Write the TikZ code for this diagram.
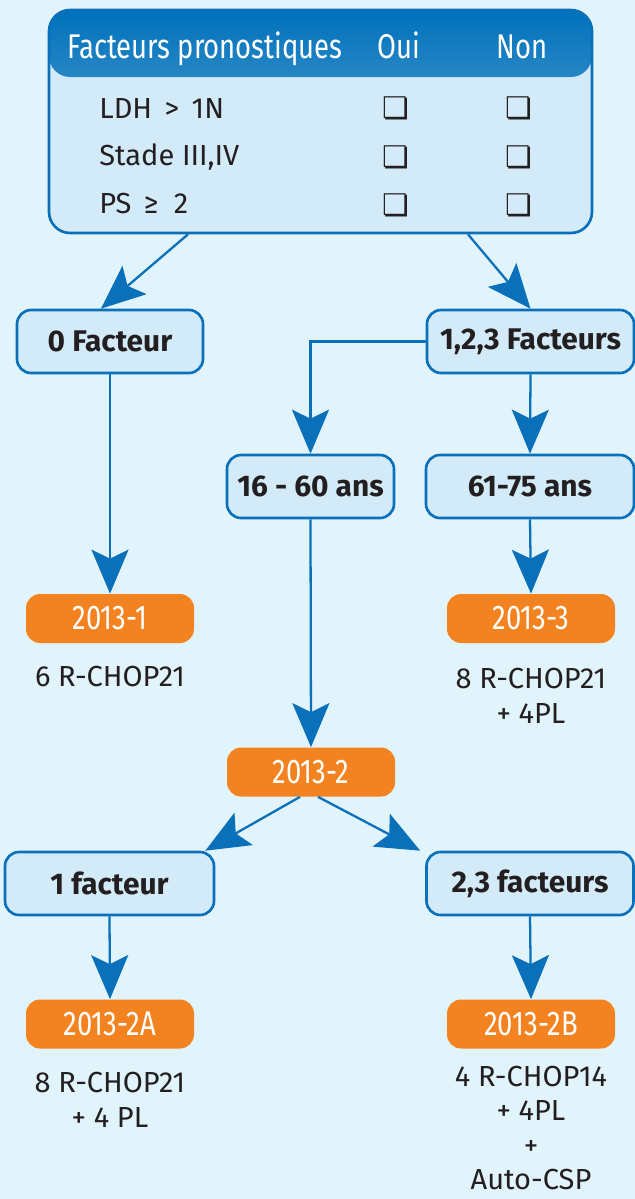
\documentclass[tikz,border=0pt]{standalone}
\usepackage{fontspec}
\setmainfont{Fira Sans}
\newfontfamily\condfont{Fira Sans}[FakeStretch=0.8]
\newfontfamily\symfont{DejaVu Sans}
\usepackage{tikz}
\usepackage{xcolor}
\usetikzlibrary{positioning,arrows.meta,calc}
\definecolor{bgblue}{RGB}{225,243,251}
\definecolor{boxfill}{RGB}{211,234,248}
\definecolor{lineblue}{RGB}{10,112,185}
\definecolor{hdrblue}{RGB}{0,113,187}
\definecolor{armorange}{RGB}{243,131,33}
\definecolor{ink}{RGB}{35,31,32}

\begin{document}
\begin{tikzpicture}[
    box/.style={draw=lineblue, line width=1.5pt, fill=boxfill, rounded corners=8pt, minimum height=1.26cm, inner sep=0pt, align=center, text=ink, font=\fontsize{17}{20}\selectfont\bfseries},
    arm/.style={fill=armorange, rounded corners=8pt, minimum width=3.36cm, minimum height=0.98cm, inner sep=0pt, text=white, font=\condfont\fontsize{19.5}{20}\selectfont},
    note/.style={align=center, text=ink, font=\fontsize{16.5}{20}\selectfont},
    row/.style={anchor=base west, inner sep=0pt, text=ink, font=\fontsize{16.5}{18}\selectfont},
    check/.style={text=ink, font=\symfont\fontsize{17}{17}\selectfont},
    hdr/.style={anchor=base, inner sep=0pt, text=white, font=\condfont\fontsize{19.5}{20}\selectfont},
    arrow/.style={-{Stealth[length=0.88cm, width=0.74cm, inset=0.18cm]}, line width=1.3pt, lineblue}
]

% Background
\useasboundingbox (0,0) rectangle (12.7,-23.98);
\fill[bgblue] (0,0) rectangle (12.7,-23.98);

% Table of prognostic factors
\node[draw=lineblue, line width=1.5pt, fill=boxfill, rounded corners=12pt, minimum width=10.86cm, minimum height=4.46cm, inner sep=0pt,
    path picture={\shade[top color=hdrblue, middle color=hdrblue!92!white, bottom color=hdrblue!50!white] (path picture bounding box.north west) rectangle ([yshift=-1.34cm]path picture bounding box.north east);}] (table) at (6.41,-2.43) {};
\node[hdr, anchor=base west] (hfact) at (1.34,-1.17) {Facteurs pronostiques};
\node[hdr] (houi) at (7.98,-1.17) {Oui};
\node[hdr] (hnon) at (10.44,-1.17) {Non};

\node[row] (ldh) at (1.98,-2.36) {LDH \,>\, 1N};
\node[row] (stade) at (1.98,-3.30) {Stade III,IV};
\node[row] (ps) at (1.98,-4.27) {PS \,≥\ \ 2};

\node[check] (ldhoui) at (7.92,-2.16) {❏};
\node[check] (ldhnon) at (10.38,-2.16) {❏};
\node[check] (stadeoui) at (7.92,-3.14) {❏};
\node[check] (stadenon) at (10.38,-3.14) {❏};
\node[check] (psoui) at (7.92,-4.10) {❏};
\node[check] (psnon) at (10.38,-4.10) {❏};

% Number of factors
\node[box, minimum width=3.72cm] (f0) at (2.2,-6.83) {0 Facteur};
\node[box, minimum width=4.14cm] (f123) at (10.61,-6.83) {1,2,3 Facteurs};

% Age groups
\node[box, minimum width=3.34cm] (age1) at (6.21,-9.73) {16 - 60 ans};
\node[box, minimum width=4.16cm] (age2) at (10.6,-9.73) {61-75 ans};

% Arms
\node[arm] (arm1) at (2.2,-12.37) {2013-1};
\node[note] (txt1) at (2.2,-13.54) {6 R-CHOP21};
\node[arm] (arm3) at (10.62,-12.37) {2013-3};
\node[note] (txt3) at (10.62,-13.91) {8 R-CHOP21\\+ 4PL};
\node[arm] (arm2) at (6.22,-15.44) {2013-2};

% 2013-2 split
\node[box, minimum width=4.18cm] (fa1) at (2.19,-17.67) {1 facteur};
\node[box, minimum width=4.14cm] (fa23) at (10.6,-17.67) {2,3 facteurs};
\node[arm] (arm2a) at (2.2,-20.48) {2013-2A};
\node[note] (txt2a) at (2.2,-21.99) {8 R-CHOP21\\+ 4 PL};
\node[arm] (arm2b) at (10.62,-20.48) {2013-2B};
\node[note, inner sep=0pt, font=\fontsize{16.5}{19.5}\selectfont] (txt2b) at (10.62,-22.56) {4 R-CHOP14\\+ 4PL\\+\\Auto-CSP};

% Arrows
\draw[arrow] ([xshift=-2.65cm]table.south) -- ([xshift=-0.18cm]f0.north);
\draw[arrow] ([xshift=2.95cm]table.south) -- (f123.north);
\draw[arrow] (f123.west) -| (age1.north);
\draw[arrow] (f123.south) -- (age2.north);
\draw[arrow] (f0.south) -- (arm1.north);
\draw[arrow] (age2.south) -- (arm3.north);
\draw[arrow] (age1.south) -- (arm2.north);
\draw[arrow] ([xshift=-0.22cm]arm2.south) -- ([xshift=-0.2cm]fa1.north east);
\draw[arrow] ([xshift=0.14cm]arm2.south) -- ([xshift=-0.1cm]fa23.north west);
\draw[arrow] (fa1.south) -- (arm2a.north);
\draw[arrow] (fa23.south) -- (arm2b.north);

\end{tikzpicture}
\end{document}
